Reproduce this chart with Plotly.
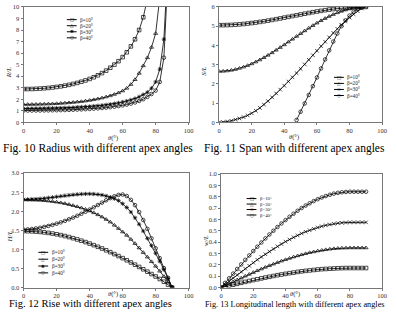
import plotly.graph_objects as go

W, H = 397, 315

# ---------------- data ----------------
theta = [0, 2.5, 5, 7.5, 10, 12.5, 15, 17.5, 20, 22.5, 25, 27.5, 30, 32.5, 35, 37.5,
         40, 42.5, 45, 47.5, 50, 52.5, 55, 57.5, 60, 62.5, 65, 67.5, 70, 72.5, 75,
         77.5, 80, 82.5, 85, 87.5, 90]

labels = ["β=10°", "β=20°", "β=30°", "β=40°"]

# Fig. 10  R/L
r_b10 = [2.88, 2.883, 2.89, 2.905, 2.924, 2.95, 2.98, 3.02, 3.065, 3.117, 3.178, 3.247, 3.326,
         3.415, 3.516, 3.63, 3.76, 3.905, 4.073, 4.264, 4.48, 4.73, 5.0, 5.3, 5.65, 6.07, 6.58,
         7.2, 8.0, 9.1, 10.7]
r_b20 = [1.55, 1.551, 1.554, 1.56, 1.568, 1.578, 1.59, 1.605, 1.623, 1.644, 1.668, 1.695, 1.726,
         1.762, 1.802, 1.848, 1.9, 1.96, 2.03, 2.11, 2.2, 2.3, 2.42, 2.56, 2.72, 2.95, 3.28, 3.7,
         4.25, 4.9, 5.6, 6.5, 7.7, 10.8]
r_b30 = [1.2, 1.2, 1.202, 1.205, 1.209, 1.214, 1.22, 1.228, 1.237, 1.247, 1.259, 1.273, 1.289,
         1.307, 1.327, 1.35, 1.376, 1.405, 1.438, 1.475, 1.517, 1.565, 1.62, 1.683, 1.755, 1.84,
         1.94, 2.06, 2.21, 2.4, 2.6, 2.95, 3.5, 4.6, 7.2, 14.0]
r_b40 = [1.02, 1.02, 1.021, 1.023, 1.026, 1.03, 1.035, 1.041, 1.048, 1.056, 1.066, 1.077, 1.09,
         1.104, 1.12, 1.138, 1.159, 1.182, 1.208, 1.238, 1.272, 1.31, 1.355, 1.405, 1.465, 1.535,
         1.62, 1.72, 1.85, 2.0, 2.2, 2.45, 2.75, 3.5, 5.6, 13.0]

# Fig. 11  S/L
s_b10 = [5.05, 5.052, 5.057, 5.066, 5.079, 5.094, 5.114, 5.136, 5.161, 5.189, 5.22, 5.253, 5.288,
         5.324, 5.363, 5.402, 5.443, 5.484, 5.525, 5.566, 5.607, 5.648, 5.687, 5.726, 5.763,
         5.797, 5.83, 5.861, 5.889, 5.914, 5.936, 5.956, 5.971, 5.984, 5.993, 5.998, 6.0]
s_b20 = [2.65, 2.656, 2.675, 2.707, 2.751, 2.807, 2.874, 2.953, 3.042, 3.14, 3.248, 3.364, 3.488,
         3.617, 3.752, 3.892, 4.034, 4.179, 4.325, 4.471, 4.616, 4.758, 4.898, 5.033, 5.163,
         5.286, 5.402, 5.51, 5.608, 5.697, 5.776, 5.843, 5.899, 5.943, 5.975, 5.994, 6.0]
s_b30 = [0, 0.01, 0.04, 0.08, 0.14, 0.2, 0.27, 0.36, 0.47, 0.6, 0.75, 0.92, 1.1, 1.3, 1.5, 1.7,
         1.9, 2.12, 2.34, 2.56, 2.78, 3.01, 3.25, 3.49, 3.72, 3.96, 4.19, 4.42, 4.65, 4.86, 5.07,
         5.27, 5.45, 5.62, 5.78, 5.92]
theta_s40 = [47.5, 50, 52.5, 55, 57.5, 60, 62.5, 65, 67.5, 70, 72.5, 75, 77.5, 80, 82.5, 85, 87.5]
s_b40 = [0.12, 0.55, 0.98, 1.42, 1.88, 2.33, 2.8, 3.27, 3.74, 4.2, 4.62, 5.0, 5.3, 5.55, 5.75,
         5.9, 5.97]

# Fig. 12  H/L
h_b10 = [1.48, 1.478, 1.474, 1.467, 1.458, 1.447, 1.433, 1.416, 1.397, 1.375, 1.351, 1.324, 1.294,
         1.262, 1.228, 1.192, 1.153, 1.112, 1.069, 1.024, 0.977, 0.928, 0.877, 0.825, 0.771,
         0.715, 0.658, 0.6, 0.54, 0.479, 0.417, 0.354, 0.29, 0.224, 0.153, 0.078, 0.0]
h_b20 = [2.3, 2.3, 2.298, 2.294, 2.288, 2.28, 2.27, 2.257, 2.242, 2.224, 2.203, 2.179, 2.152,
         2.122, 2.089, 2.052, 2.01, 1.963, 1.91, 1.852, 1.788, 1.718, 1.635, 1.55, 1.46, 1.37,
         1.265, 1.155, 1.04, 0.92, 0.8, 0.68, 0.56, 0.43, 0.29, 0.15, 0.0]
h_b30 = [2.31, 2.312, 2.316, 2.322, 2.33, 2.34, 2.352, 2.366, 2.38, 2.395, 2.41, 2.423, 2.435,
         2.445, 2.452, 2.456, 2.457, 2.453, 2.443, 2.427, 2.403, 2.37, 2.33, 2.28, 2.2, 2.1,
         1.98, 1.83, 1.66, 1.48, 1.29, 1.1, 0.9, 0.69, 0.47, 0.24, 0.0]
h_b40 = [1.52, 1.525, 1.535, 1.55, 1.568, 1.59, 1.615, 1.643, 1.675, 1.71, 1.748, 1.79, 1.835,
         1.883, 1.934, 1.988, 2.045, 2.104, 2.165, 2.227, 2.288, 2.345, 2.395, 2.43, 2.44, 2.4,
         2.3, 2.16, 1.98, 1.77, 1.54, 1.29, 1.03, 0.77, 0.51, 0.255, 0.0]

# Fig. 13  w/L
w_b10 = [0, 0.008, 0.017, 0.025, 0.033, 0.042, 0.05, 0.058, 0.066, 0.073, 0.081, 0.088, 0.095,
         0.102, 0.109, 0.115, 0.121, 0.127, 0.132, 0.138, 0.143, 0.147, 0.151, 0.155, 0.159,
         0.162, 0.164, 0.166, 0.168, 0.17, 0.171, 0.172, 0.172, 0.172, 0.172, 0.172, 0.172]
w_b20 = [0, 0.017, 0.034, 0.051, 0.068, 0.084, 0.101, 0.117, 0.133, 0.149, 0.164, 0.179, 0.194,
         0.207, 0.221, 0.234, 0.246, 0.258, 0.27, 0.28, 0.29, 0.299, 0.308, 0.315, 0.323, 0.329,
         0.334, 0.339, 0.343, 0.346, 0.348, 0.349, 0.35, 0.35, 0.35, 0.35, 0.35]
w_b30 = [0, 0.028, 0.056, 0.084, 0.112, 0.139, 0.166, 0.192, 0.219, 0.245, 0.27, 0.294, 0.318,
         0.341, 0.363, 0.384, 0.405, 0.424, 0.443, 0.46, 0.477, 0.492, 0.505, 0.518, 0.53, 0.54,
         0.549, 0.556, 0.563, 0.568, 0.571, 0.573, 0.575, 0.575, 0.575, 0.575, 0.575]
w_b40 = [0, 0.041, 0.082, 0.123, 0.164, 0.204, 0.244, 0.283, 0.322, 0.36, 0.397, 0.433, 0.468,
         0.501, 0.534, 0.565, 0.595, 0.624, 0.651, 0.677, 0.701, 0.723, 0.743, 0.762, 0.779,
         0.794, 0.807, 0.818, 0.828, 0.835, 0.84, 0.843, 0.845, 0.845, 0.845, 0.845, 0.845]

x_ticks = [0, 20, 40, 60, 80, 100]

# ---------------- figure ----------------
def px(x):
    return x / W

def py(y):
    return 1 - y / H

SERIF = "Liberation Serif"
fig = go.Figure()

def add_curves(xs_list, ys_list, xa, ya, syms):
    for xs, ys, sym in zip(xs_list, ys_list, syms):
        fig.add_trace(go.Scatter(
            x=xs, y=ys, mode="lines+markers", xaxis=xa, yaxis=ya, showlegend=False,
            line=dict(color="black", width=0.8),
            marker=dict(symbol=sym, size=3.6, color="black",
                        line=dict(color="black", width=0.7)),
        ))

sym_a = ["square-open", "triangle-up-open", "asterisk", "circle-open"]
sym_b = ["square-open", "triangle-up-open", "x-thin", "circle-open"]
add_curves([theta[:len(r_b10)], theta[:len(r_b20)], theta[:len(r_b30)], theta[:len(r_b40)]],
           [r_b10, r_b20, r_b30, r_b40], "x", "y", sym_a)
add_curves([theta, theta, theta[:len(s_b30)], theta_s40],
           [s_b10, s_b20, s_b30, s_b40], "x2", "y2", sym_b)
add_curves([theta, theta, theta, theta],
           [h_b10, h_b20, h_b30, h_b40], "x3", "y3", sym_a)
add_curves([theta, theta, theta, theta],
           [w_b10, w_b20, w_b30, w_b40], "x4", "y4", sym_b)

axis_common = dict(showgrid=False, zeroline=False, showline=True, linecolor="#777",
                   linewidth=1, mirror=True, ticks="outside", ticklen=2, tickcolor="#777",
                   tickfont=dict(family=SERIF, size=6.5, color="#333"))

def xaxis(dom, anchor):
    return dict(domain=dom, anchor=anchor, range=[0, 100], tickvals=x_ticks, **axis_common)

def yaxis(dom, anchor, rng, dt, fmt):
    return dict(domain=dom, anchor=anchor, range=rng, dtick=dt, tick0=0, tickformat=fmt,
                **axis_common)

fig.update_layout(
    width=W, height=H, autosize=False,
    margin=dict(l=0, r=0, t=0, b=0),
    paper_bgcolor="white", plot_bgcolor="white",
    showlegend=False,
    xaxis=xaxis([px(22), px(190)], "y"),
    yaxis=yaxis([py(121), py(3)], "x", [0, 10], 1, "d"),
    xaxis2=xaxis([px(221), px(387)], "y2"),
    yaxis2=yaxis([py(121), py(3)], "x2", [0, 6], 1, "d"),
    xaxis3=xaxis([px(22), px(190)], "y3"),
    yaxis3=yaxis([py(290), py(173)], "x3", [0, 3], 0.5, ".1f"),
    xaxis4=xaxis([px(223), px(387)], "y4"),
    yaxis4=yaxis([py(290), py(174)], "x4", [0, 1], 0.1, ".1f"),
)

ann = []
shapes = []

def text(x, y, s, size=7, angle=0, xanchor="center", yanchor="middle", italic=False, color="#222"):
    ann.append(dict(x=px(x), y=py(y), xref="paper", yref="paper", text=s, showarrow=False,
                    textangle=angle, xanchor=xanchor, yanchor=yanchor,
                    font=dict(family=SERIF, size=size, color=color,
                              style="italic" if italic else "normal")))

# axis titles
text(8, 70, "R/L", 7, -90, italic=True)
text(206, 69, "S/L", 7, -90, italic=True)
text(8, 238, "H/L", 7, -90, italic=True)
text(207, 242, "w/L", 7, -90, italic=True)
for xc, yc in [(106, 137), (304, 136), (106, 303), (305, 303)]:
    ann.append(dict(x=px(xc), y=py(yc), xref="paper", yref="paper", showarrow=False,
                    text="<i>θ</i>(°)", font=dict(family=SERIF, size=6.5, color="#222")))

# captions
text(98, 148, "Fig. 10 Radius with different apex angles", 11.5, color="black")
text(298, 148, "Fig. 11 Span with different apex angles", 11.5, color="black")
text(90, 314, "Fig. 12 Rise with different apex angles", 10.5, yanchor="bottom", color="black")
text(298, 314, "Fig. 13 Longitudinal length with different apex angles", 8.3, yanchor="bottom", color="black")

# legends
def legend(x0, y0, dy, glyph_list, fs=5.2):
    for i, (lab, g) in enumerate(zip(labels, glyph_list)):
        y = y0 + i * dy
        shapes.append(dict(type="line", xref="paper", yref="paper",
                           x0=px(x0), x1=px(x0 + 10), y0=py(y), y1=py(y),
                           line=dict(color="black", width=1)))
        ann.append(dict(x=px(x0 + 5), y=py(y), xref="paper", yref="paper", showarrow=False,
                        text=g, xanchor="center", yanchor="middle",
                        font=dict(family="DejaVu Sans", size=4.5, color="black")))
        ann.append(dict(x=px(x0 + 11.5), y=py(y), xref="paper", yref="paper", showarrow=False,
                        text=lab, xanchor="left", yanchor="middle",
                        font=dict(family=SERIF, size=fs, color="#222")))

legend(66, 16, 6.2, ["□", "△", "✱", "○"])
legend(338, 75, 6.2, ["□", "△", "×", "○"])
legend(37, 254, 7.0, ["□", "△", "✱", "○"])
legend(249, 199, 5.6, ["□", "△", "×", "○"], fs=4.8)

fig.update_layout(annotations=ann, shapes=shapes)
fig.write_html("out.html")
